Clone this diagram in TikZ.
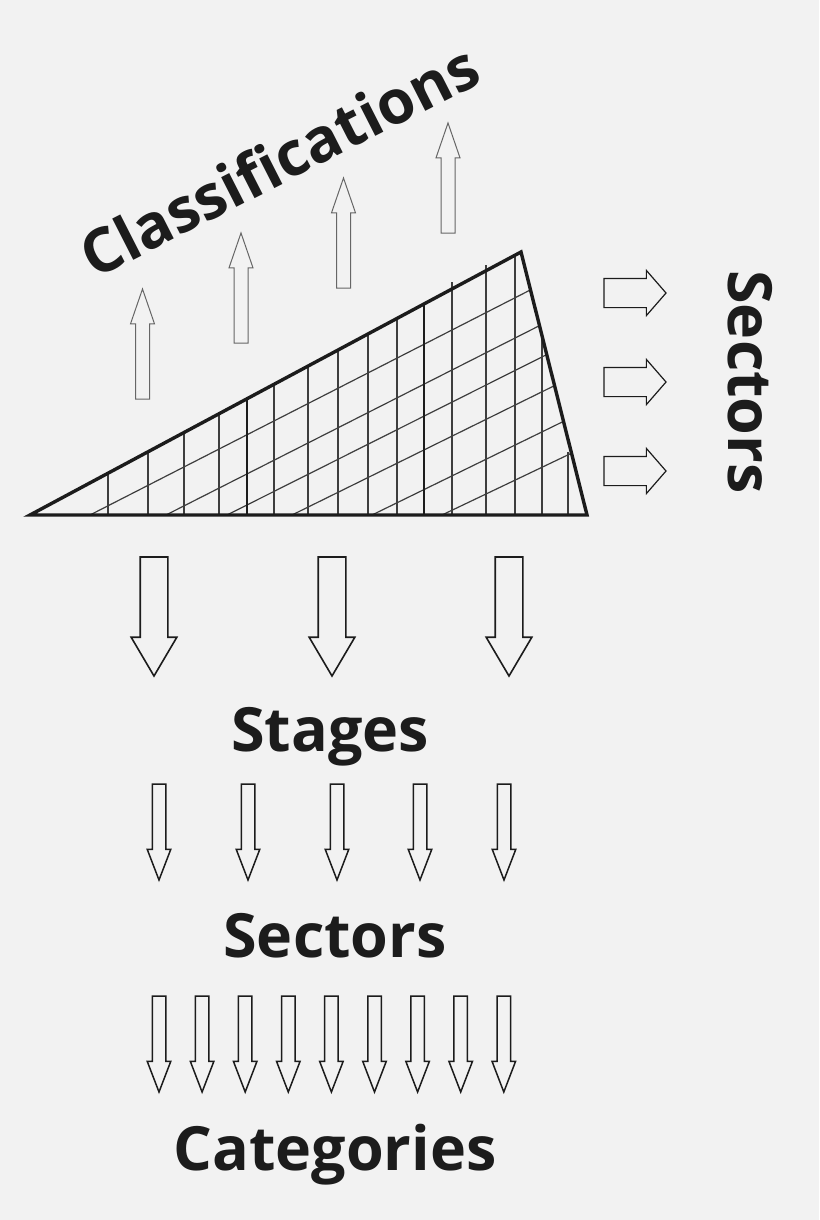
\documentclass[tikz,border=0pt]{standalone}
\usepackage{fontspec}
\setmainfont{Open Sans}
\usetikzlibrary{shapes.arrows,calc}
\definecolor{paper}{HTML}{F2F2F2}
\definecolor{ink}{HTML}{1C1C1C}

\begin{document}
\begin{tikzpicture}[
        x=1pt, y=-1pt,
        title/.style={text=ink, font=\fontsize{61}{70}\selectfont\bfseries, inner sep=0pt},
        blockarrow/.style={single arrow, draw=ink, fill=paper, outer sep=0pt, inner xsep=0pt, anchor=tail},
        bigdown/.style={blockarrow, line width=1.6pt, rotate=-90, inner ysep=13pt, single arrow head extend=9pt, single arrow tip angle=61, minimum height=119pt},
        smalldown/.style={blockarrow, line width=1.5pt, rotate=-90, inner ysep=6pt, single arrow head extend=5pt, single arrow tip angle=42, minimum height=96pt},
        uparrow/.style={blockarrow, draw=black!60, line width=1pt, rotate=90, inner ysep=6.5pt, single arrow head extend=5pt, single arrow tip angle=38, minimum height=110pt},
        sidearrow/.style={blockarrow, line width=1.2pt, inner ysep=14pt, single arrow head extend=8pt, single arrow tip angle=98, minimum height=62pt},
        rimline/.style={draw=ink, line width=3.4pt, line join=miter},
        cellline/.style={draw=ink!85, line width=1.2pt},
        stageline/.style={draw=ink, line width=2.6pt}
    ]
        \path [use as bounding box, fill=paper] (0,0) rectangle (819,1220);

        \coordinate (L) at (30,515);
        \coordinate (T) at (521,252);
        \coordinate (R) at (587,515);

        \foreach \x/\top in {108/473, 148/452, 184/432, 219/414, 274/384, 308/366, 338/350, 368/334, 397/318, 452/282, 486/265, 515/256, 542/338, 568/452}
            \draw [cellline] (\x,515) -- (\x,\top);
        \foreach \x/\t in {90/0.144, 166/0.280, 227/0.390, 292/0.508, 372/0.644, 442/0.765}
            \draw [cellline] (\x,515) -- ($(T)!\t!(R)$);
        \draw [stageline] (247,515) -- (247,399);
        \draw [stageline] (424,515) -- (424,304);
        \draw [rimline] (L) -- (T) -- (R) -- cycle;

        \foreach \x/\y [count=\i] in {142.5/399, 241/343, 343.5/288, 448/233}
            \node [uparrow] (class\i) at (\x,\y) {};
        \foreach \y [count=\i] in {293, 382, 471}
            \node [sidearrow] (side\i) at (604,\y) {};
        \foreach \x [count=\i] in {154, 332, 509}
            \node [bigdown] (stage\i) at (\x,557) {};
        \foreach \x [count=\i] in {159, 248, 337, 420, 504}
            \node [smalldown] (sector\i) at (\x,784) {};
        \foreach \i in {1,...,9}
            \node [smalldown] (category\i) at ({159+43.1*(\i-1)},996) {};

        \node [title, rotate=27] (classes) at (279,160) {Classifications};
        \node [title, rotate=-90] (sideways) at (750,382) {Sectors};
        \node [title, anchor=base] (stages) at (330,751) {Stages};
        \node [title, anchor=base] (sectors) at (335,957) {Sectors};
        \node [title, anchor=base] (categories) at (335,1170) {Categories};
    \end{tikzpicture}
\end{document}
